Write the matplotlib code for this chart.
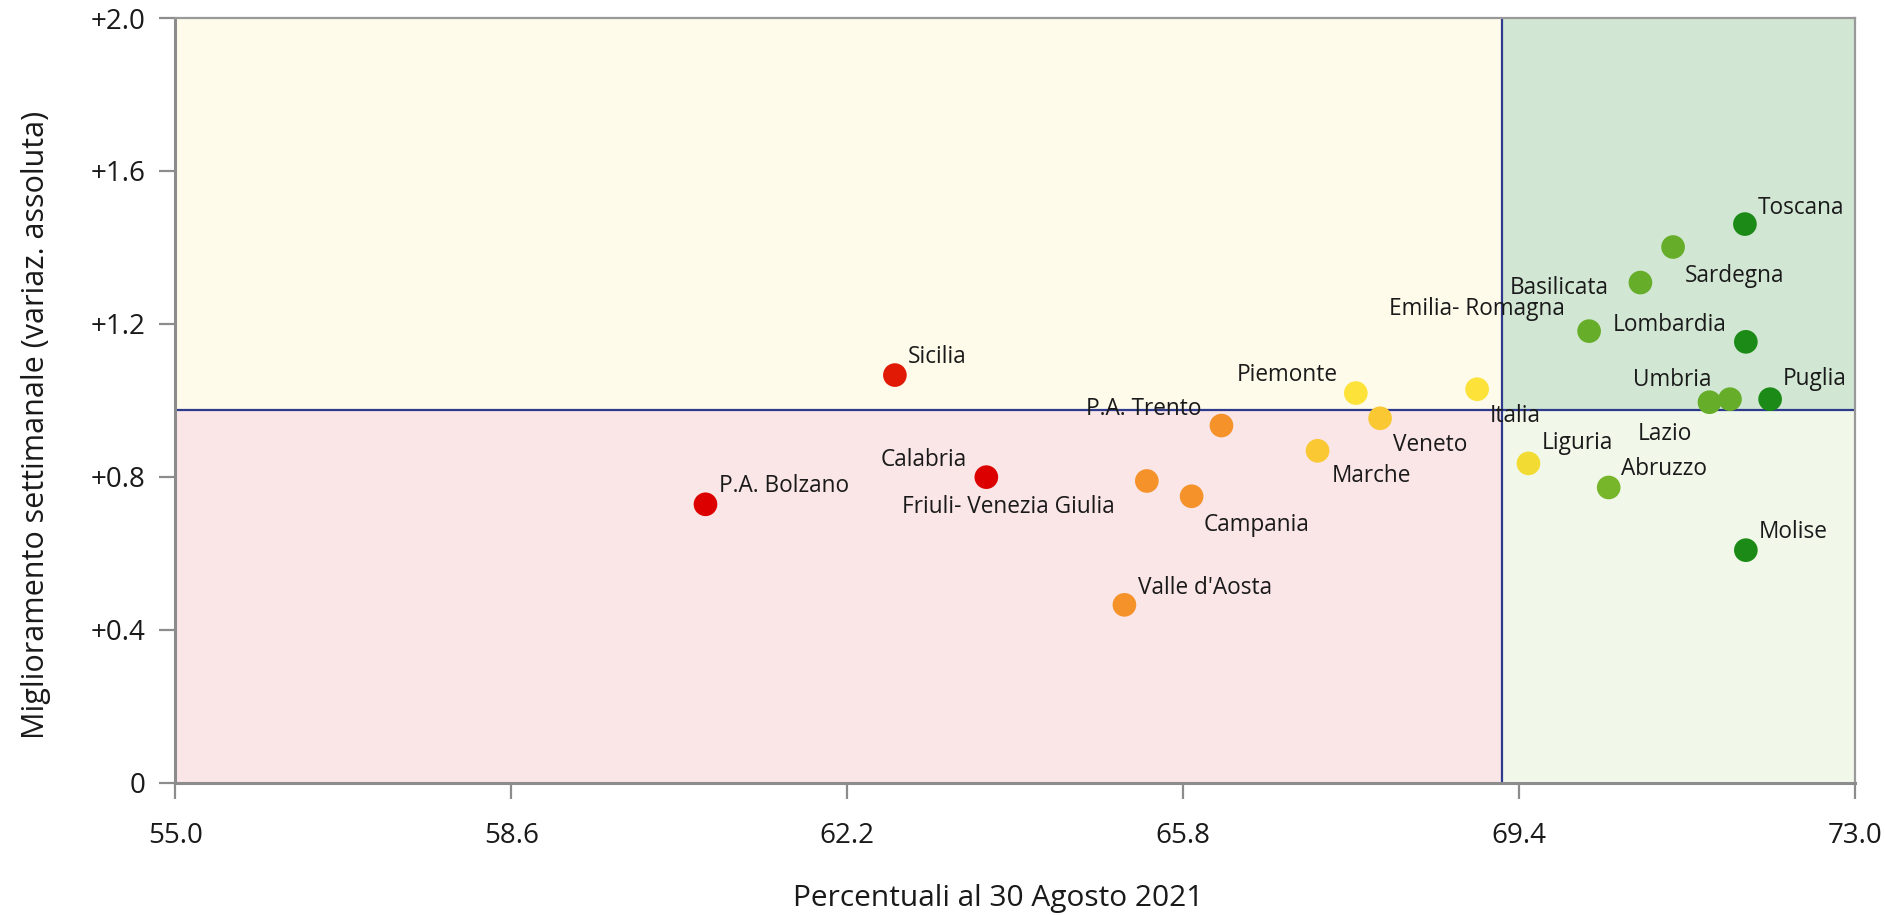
import matplotlib.pyplot as plt
from matplotlib.patches import Rectangle

# data
regions = [
    "P.A. Bolzano", "Sicilia", "Calabria", "Friuli- Venezia Giulia", "Campania",
    "P.A. Trento", "Valle d'Aosta", "Marche", "Piemonte", "Veneto", "Italia",
    "Liguria", "Emilia- Romagna", "Abruzzo", "Basilicata", "Sardegna", "Toscana",
    "Lombardia", "Umbria", "Lazio", "Puglia", "Molise",
]
pct = [60.68, 62.71, 63.69, 65.41, 65.89, 66.21, 65.17, 67.24, 67.65, 67.91, 68.95,
       69.50, 70.15, 70.36, 70.70, 71.05, 71.82, 71.83, 71.66, 71.44, 72.09, 71.83]
improvement = [0.728, 1.066, 0.799, 0.789, 0.749, 0.934, 0.465, 0.868, 1.019, 0.953, 1.029,
               0.835, 1.181, 0.772, 1.308, 1.401, 1.461, 1.153, 1.003, 0.995, 1.003, 0.608]
colors = ["#dc0000", "#e01a05", "#dc0000", "#f5922a", "#f5922a", "#f5922a", "#f5922a",
          "#f9c832", "#fde23a", "#f9c832", "#fde23a", "#f2dc34", "#66ad2a", "#77b52a",
          "#66ad2a", "#66ad2a", "#1b8a16", "#1b8a16", "#66ad2a", "#66ad2a", "#1b8a16",
          "#1b8a16"]

x_threshold = 69.22
y_threshold = 0.975
xticks = [55.0, 58.6, 62.2, 65.8, 69.4, 73.0]
yticks = [0, 0.4, 0.8, 1.2, 1.6, 2.0]
ytick_labels = ["0", "+0.4", "+0.8", "+1.2", "+1.6", "+2.0"]

# label placement (offset in points, horizontal alignment)
label_pos = {
    "P.A. Bolzano": (9.9, 12.9, "left"),
    "Sicilia": (9.6, 12.7, "left"),
    "Calabria": (-14.0, 12.6, "right"),
    "Friuli- Venezia Giulia": (-23.3, -19.0, "right"),
    "Campania": (8.7, -20.6, "left"),
    "P.A. Trento": (-14.3, 11.9, "right"),
    "Valle d'Aosta": (9.5, 12.4, "left"),
    "Marche": (9.9, -18.4, "left"),
    "Piemonte": (-13.3, 12.7, "right"),
    "Veneto": (9.6, -19.1, "left"),
    "Italia": (9.3, -19.2, "left"),
    "Liguria": (9.3, 14.6, "left"),
    "Emilia- Romagna": (-17.5, 15.8, "right"),
    "Abruzzo": (8.8, 13.4, "left"),
    "Basilicata": (-22.5, -4.2, "right"),
    "Sardegna": (8.8, -21.0, "left"),
    "Toscana": (9.3, 11.9, "left"),
    "Lombardia": (-14.0, 12.4, "right"),
    "Umbria": (-13.2, 13.5, "right"),
    "Lazio": (-12.8, -23.2, "right"),
    "Puglia": (8.9, 14.4, "left"),
    "Molise": (9.0, 12.9, "left"),
}

plt.rcParams["font.family"] = ["Open Sans", "DejaVu Sans"]

fig = plt.figure(figsize=(18.85, 9.15), dpi=100)
ax = fig.add_axes([0.0931, 0.1447, 0.891, 0.8356])

xmin, xmax = xticks[0], xticks[-1]
ymin, ymax = yticks[0], yticks[-1]
ax.set_xlim(xmin, xmax)
ax.set_ylim(ymin, ymax)

# quadrant backgrounds
quads = [
    (xmin, ymin, x_threshold - xmin, y_threshold - ymin, "#fae5e7"),
    (xmin, y_threshold, x_threshold - xmin, ymax - y_threshold, "#fefbeb"),
    (x_threshold, y_threshold, xmax - x_threshold, ymax - y_threshold, "#d2e7d3"),
    (x_threshold, ymin, xmax - x_threshold, y_threshold - ymin, "#f1f8ea"),
]
for x0, y0, w, h, c in quads:
    ax.add_patch(Rectangle((x0, y0), w, h, facecolor=c, edgecolor="none", zorder=0))

ax.axvline(x_threshold, color="#2e3a8c", lw=1.6, zorder=1)
ax.axhline(y_threshold, color="#2e3a8c", lw=1.6, zorder=1)

ax.scatter(pct, improvement, s=290, c=colors, edgecolors="none", zorder=3)

for name, x, y in zip(regions, pct, improvement):
    dx, dy, ha = label_pos[name]
    ax.annotate(name, (x, y), xytext=(dx, dy), textcoords="offset points",
                ha=ha, va="center", fontsize=16.3, color="#1a1a1a", zorder=4)

ax.set_xticks(xticks)
ax.set_xticklabels([f"{v:.1f}" for v in xticks])
ax.set_yticks(yticks)
ax.set_yticklabels(ytick_labels)
ax.tick_params(axis="both", length=11.5, width=1.6, color="#8c8c8c",
               labelsize=20, labelcolor="#1a1a1a")
ax.tick_params(axis="x", pad=17)
ax.tick_params(axis="y", pad=10)

for side in ["left", "bottom"]:
    ax.spines[side].set_color("#8c8c8c")
    ax.spines[side].set_linewidth(2.2)
for side in ["top", "right"]:
    ax.spines[side].set_color("#999999")
    ax.spines[side].set_linewidth(1.6)

ax.set_xlabel("Percentuali al 30 Agosto 2021", fontsize=21.5, color="#1a1a1a")
ax.xaxis.label.set_va("center")
ax.xaxis.set_label_coords(0.49, -0.152)
ax.set_ylabel("Miglioramento settimanale (variaz. assoluta)", fontsize=22,
              color="#1a1a1a")
ax.yaxis.label.set_va("center")
ax.yaxis.set_label_coords(-0.083, 0.468)

fig.savefig("out.png", dpi=100)
